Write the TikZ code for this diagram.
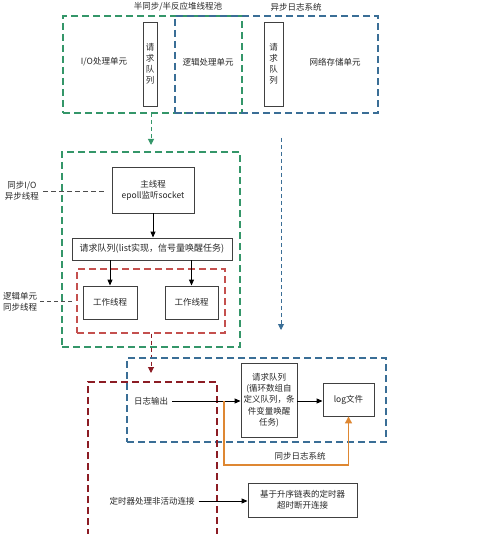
\documentclass[tikz,border=0pt]{standalone}
\usepackage{fontspec}
\setmainfont{Noto Sans CJK SC}
\usetikzlibrary{arrows.meta}
\definecolor{dgreen}{RGB}{52,150,105}
\definecolor{dblue}{RGB}{58,110,150}
\definecolor{dred}{RGB}{140,28,36}
\definecolor{lred}{RGB}{196,80,78}
\definecolor{dorange}{RGB}{222,135,50}
\definecolor{txt}{RGB}{40,40,40}
\tikzset{
  every node/.style={text=txt, font=\fontsize{8.5}{11}\selectfont, inner sep=0pt},
  box/.style={draw=black!75, line width=0.9pt, align=center},
  frame/.style={dash pattern=on 7pt off 4pt, line width=1.2pt},
  conn/.style={draw=black, line width=0.9pt, -{Triangle[length=6pt,width=5pt]}},
  lbl/.style={align=center},
}
\begin{document}
\begin{tikzpicture}[x=1pt,y=-1pt]
\useasboundingbox[fill=white] (0,0) rectangle (500,534);
% top frames
\node[frame, draw=dgreen, minimum width=179pt, minimum height=97pt] (tg) at (152.5,64.5) {};
\node[frame, draw=dblue, minimum width=203pt, minimum height=97pt] (tb) at (276.5,64.5) {};
\node (t1) at (178,7) {半同步/半反应堆线程池};
\node (t2) at (296,7) {异步日志系统};
\node (io) at (104,62) {I/O处理单元};
\node[box, minimum width=14pt, minimum height=84pt, font=\fontsize{8.5}{11}\selectfont] (q1) at (150,64) {请\\求\\队\\列};
\node (lg) at (208,62) {逻辑处理单元};
\node[box, minimum width=19pt, minimum height=84pt, font=\fontsize{8.5}{11}\selectfont] (q2) at (273.5,64) {请\\求\\队\\列};
\node (ns) at (335,62) {网络存储单元};
% second green frame
\node[frame, draw=dgreen, minimum width=178pt, minimum height=195pt] (g2) at (151,249.5) {};
\coordinate (ga) at (151,113);
\coordinate (gb) at (151,145);
\draw[dgreen, line width=1pt, dash pattern=on 4pt off 3pt, -{Triangle[length=6pt,width=6pt]}] (ga) -- (gb);
\node[box, minimum width=82pt, minimum height=46pt] (main) at (153,190) {主线程\\epoll监听socket};
\node[box, minimum width=160pt, minimum height=22pt, font=\fontsize{9}{11}\selectfont] (rq) at (152,249) {请求队列(list实现，信号量唤醒任务)};
\draw[conn] (main) -- (main|-rq.north);
\node[frame, draw=lred, minimum width=148pt, minimum height=64pt] (rf) at (151,301) {};
\node[box, minimum width=54pt, minimum height=33pt] (w1) at (110,302.5) {工作线程};
\node[box, minimum width=53pt, minimum height=33pt] (w2) at (191.5,302.5) {工作线程};
\draw[conn] (rq.south-|w1) -- (w1);
\draw[conn] (rq.south-|w2) -- (w2);
\node[lbl] (s1) at (22,191) {同步I/O\\异步线程};
\coordinate (s1e) at (104,192);
\draw[black!70, line width=1pt, dash pattern=on 5pt off 3pt] (s1.east|-s1e) ++(4,0) -- (s1e);
\node[lbl] (s2) at (20,302) {逻辑单元\\同步线程};
\coordinate (s2e) at (74,301);
\draw[black!70, line width=1pt, dash pattern=on 4pt off 3pt] (s2.east|-s2e) ++(3,0) -- (s2e);
% blue dashed arrow
\coordinate (ba) at (281,138);
\coordinate (bb) at (281,330);
\draw[dblue, line width=0.9pt, dash pattern=on 4pt off 3pt, -{Triangle[length=6pt,width=6pt]}] (ba) -- (bb);
% red dashed arrow
\coordinate (ra) at (151,373);
\draw[dred, line width=1pt, dash pattern=on 4pt off 3pt, -{Triangle[length=6pt,width=6pt]}] (rf.south-|ra) -- (ra);
% bottom frames
\node[frame, draw=dblue, minimum width=259pt, minimum height=84pt] (bf) at (256.5,400) {};
\draw[frame, draw=dred] (88,536) -- (88,382) -- (217,382) -- (217,536);
\node (out) at (151,401) {日志输出};
\node[box, minimum width=56pt, minimum height=74pt, font=\fontsize{8.5}{11.3}\selectfont] (q3) at (269,400) {请求队列\\(循环数组自\\定义队列，条\\件变量唤醒\\任务)};
\node[box, minimum width=51pt, minimum height=33pt] (log) at (348.5,399.5) {log文件};
\draw[conn] (out.east) ++(4,0) -- (q3.west|-out);
\draw[conn] (q3.east|-out) -- (log.west|-out);
\coordinate (oa) at (224,401);
\coordinate (ob) at (224,465);
\draw[dorange, line width=1.2pt, -{Triangle[length=7pt,width=7pt]}] (oa) -- (ob) -| (log.south);
\node (sync) at (300,456) {同步日志系统};
\node (tm) at (152,501) {定时器处理非活动连接};
\node[box, minimum width=109pt, minimum height=34pt] (tb2) at (302.5,500) {基于升序链表的定时器\\超时断开连接};
\draw[conn] (tm.east) ++(4,0) -- (tb2.west|-tm);
\end{tikzpicture}
\end{document}
